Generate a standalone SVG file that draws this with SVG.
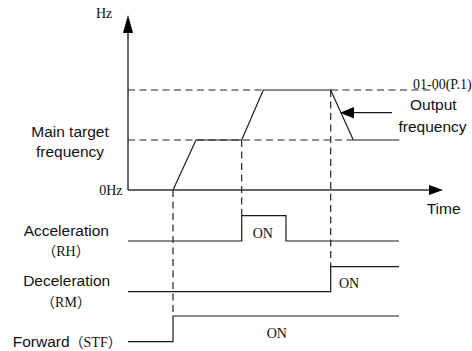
<svg xmlns="http://www.w3.org/2000/svg" width="472" height="351" viewBox="0 0 472 351">
<style>
.ln{fill:none;stroke:#1a1a1a;stroke-width:1.2}
.ax{fill:none;stroke:#333;stroke-width:1.5}
.ds{fill:none;stroke:#222;stroke-width:1.2;stroke-dasharray:7 4.5}
.ah{fill:#000;stroke:none}
.sans{font-family:"Liberation Sans",Arial,sans-serif;font-size:15.5px;fill:#111}
.serif{font-family:"Liberation Serif","Noto Sans CJK SC",serif;font-size:14px;fill:#111}
</style>
<rect width="472" height="351" fill="#fff"/>
<g id="axes">
<line class="ax" x1="128" y1="190" x2="128" y2="30"/>
<polygon class="ah" points="128,15 123,33 133,33"/>
<line class="ax" x1="128" y1="190" x2="431" y2="190"/>
<polygon class="ah" points="443,190 429,185 429,195"/>
</g>
<g id="guides">
<line class="ds" x1="128" y1="90" x2="263" y2="90"/>
<line class="ds" x1="331" y1="90" x2="436" y2="90"/>
<line class="ds" x1="128" y1="140" x2="353" y2="140"/>
<line class="ds" x1="173" y1="190" x2="173" y2="316"/>
<line class="ds" x1="241.7" y1="140" x2="241.7" y2="215.7"/>
<line class="ds" x1="330.7" y1="90" x2="330.7" y2="266.7"/>
</g>
<g id="connectors">
<polyline id="output-frequency" class="ln" points="173,190 196,140 241.7,140 263.3,90 330.7,90 353.3,140 399.3,140"/>
<polyline id="acceleration-signal" class="ln" points="128,241 241.7,241 241.7,215.7 286,215.7 286,241 399,241"/>
<polyline id="deceleration-signal" class="ln" points="128,291.7 330.7,291.7 330.7,266.7 399,266.7"/>
<polyline id="forward-signal" class="ln" points="128,341.7 173,341.7 173,316 399,316"/>
<line class="ln" x1="392" y1="112.7" x2="352" y2="112.7"/>
<polygon class="ah" points="340,112.7 354,107 354,118.5"/>
</g>
<g id="labels">
<text class="serif" x="96" y="18">Hz</text>
<text class="sans" x="70" y="137" text-anchor="middle">Main target</text>
<text class="sans" x="70" y="156.5" text-anchor="middle">frequency</text>
<text class="serif" x="122.5" y="195" text-anchor="end">0Hz</text>
<text class="serif" x="413" y="89">01-00(P.1)</text>
<text class="sans" x="433.3" y="110" text-anchor="middle">Output</text>
<text class="sans" x="432.5" y="131.5" text-anchor="middle">frequency</text>
<text class="sans" x="426.7" y="214">Time</text>
<text class="sans" x="66.3" y="236" text-anchor="middle">Acceleration</text>
<text class="serif" x="66" y="256" text-anchor="middle">（RH）</text>
<text class="sans" x="66.7" y="286" text-anchor="middle">Deceleration</text>
<text class="serif" x="66" y="306.5" text-anchor="middle">（RM）</text>
<text x="12.7" y="346.5"><tspan class="sans">Forward</tspan><tspan class="serif">（STF）</tspan></text>
<text class="serif" x="252.7" y="238">ON</text>
<text class="serif" x="339" y="288">ON</text>
<text class="serif" x="266.7" y="338">ON</text>
</g>
</svg>
